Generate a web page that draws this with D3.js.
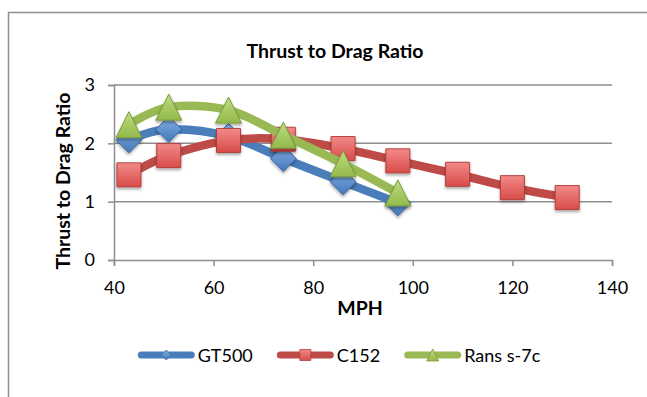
<!DOCTYPE html>
<html>
<head>
<meta charset="utf-8">
<script src="https://cdn.jsdelivr.net/npm/d3@7"></script>
<style>
  body { margin: 0; background: #fff; }
  svg { display: block; font-family: Lato, "Noto Sans", sans-serif; }
  .tick text { font-size: 18px; fill: #000; }
</style>
</head>
<body>
<div id="chart"></div>
<script>
var w = 647;
var h = 397;

// data
var gtMph = [43, 51, 63, 74, 86, 97];
var gtRatio = [2.06, 2.24, 2.12, 1.74, 1.34, 0.98];
var cMph = [43, 51, 63, 74, 86, 97, 109, 120, 131];
var cRatio = [1.46, 1.79, 2.05, 2.07, 1.91, 1.70, 1.47, 1.24, 1.07];
var ransMph = [43, 51, 63, 74, 86, 97];
var ransRatio = [2.32, 2.62, 2.57, 2.14, 1.65, 1.15];

var seriesNames = ["GT500", "C152", "Rans s-7c"];
var xTicks = [40, 60, 80, 100, 120, 140];
var yTicks = [0, 1, 2, 3];

var series = [
    { name: seriesNames[0], mph: gtMph, val: gtRatio, color: "#4a7ebb", marker: "diamond", light: "#86afe6", dark: "#4277b8", edge: "#3c6aa5" },
    { name: seriesNames[1], mph: cMph, val: cRatio, color: "#be4b48", marker: "square", light: "#f28a88", dark: "#d84c49", edge: "#b23f3c" },
    { name: seriesNames[2], mph: ransMph, val: ransRatio, color: "#98b954", marker: "triangle", light: "#bedd7e", dark: "#93b94c", edge: "#7c9c3c" }
];

var plotLeft = 114, plotRight = 612, plotTop = 85, plotBottom = 260;

var xScale = d3.scaleLinear().domain([40, 140]).range([plotLeft, plotRight]);
var yScale = d3.scaleLinear().domain([0, 3]).range([plotBottom, plotTop]);

var svg = d3.select("#chart")
    .append("svg")
    .attr("width", w)
    .attr("height", h);

var defs = svg.append("defs");
var shadow = defs.append("filter").attr("id", "shadow")
    .attr("x", "-30%").attr("y", "-30%").attr("width", "160%").attr("height", "170%");
shadow.append("feDropShadow")
    .attr("dx", 0).attr("dy", 2).attr("stdDeviation", 1.6)
    .attr("flood-color", "#000").attr("flood-opacity", 0.35);

series.forEach(function (s, i) {
    var g = defs.append("linearGradient").attr("id", "grad" + i)
        .attr("x1", 0).attr("y1", 0).attr("x2", 0).attr("y2", 1);
    g.append("stop").attr("offset", "0%").attr("stop-color", s.light);
    g.append("stop").attr("offset", "100%").attr("stop-color", s.dark);
});

// chart border
svg.append("rect")
    .attr("x", 8.5).attr("y", 12.5)
    .attr("width", 700).attr("height", 500)
    .attr("fill", "none")
    .attr("stroke", "#8e8e8e")
    .attr("stroke-width", 1.5);

// title
svg.append("text")
    .attr("x", 335).attr("y", 58)
    .attr("text-anchor", "middle")
    .attr("font-size", "19.5px")
    .attr("font-weight", "bold")
    .text("Thrust to Drag Ratio");

// gridlines
svg.append("g")
    .selectAll("line")
    .data(yTicks.slice(1))
    .enter()
    .append("line")
    .attr("x1", plotLeft).attr("x2", plotRight)
    .attr("y1", function (d) { return yScale(d); })
    .attr("y2", function (d) { return yScale(d); })
    .attr("stroke", "#8e8e8e")
    .attr("stroke-width", 1.5);

var yAxis = d3.axisLeft(yScale).tickValues(yTicks).tickSize(6).tickPadding(13).tickFormat(d3.format("d"));
var xAxis = d3.axisBottom(xScale).tickValues(xTicks).tickSize(6).tickPadding(15).tickFormat(d3.format("d"));

var yG = svg.append("g").attr("transform", "translate(" + plotLeft + ",0)").call(yAxis);
var xG = svg.append("g").attr("transform", "translate(0," + plotBottom + ")").call(xAxis);
[yG, xG].forEach(function (a) {
    a.attr("font-family", null).attr("font-size", null);
    a.select(".domain").attr("stroke", "#8e8e8e").attr("stroke-width", 1.5);
    a.selectAll(".tick line").attr("stroke", "#8e8e8e").attr("stroke-width", 1.5);
});

// axis titles
svg.append("text")
    .attr("x", 360).attr("y", 315)
    .attr("text-anchor", "middle")
    .attr("font-size", "19.5px")
    .attr("font-weight", "bold")
    .text("MPH");

svg.append("text")
    .attr("transform", "translate(70,181) rotate(-90)")
    .attr("text-anchor", "middle")
    .attr("font-size", "19.5px")
    .attr("font-weight", "bold")
    .text("Thrust to Drag Ratio");

function markerPath(type, r) {
    if (type === "diamond") return "M0," + (-r) + "L" + r + ",0L0," + r + "L" + (-r) + ",0Z";
    if (type === "square") return "M" + (-r) + "," + (-r) + "H" + r + "V" + r + "H" + (-r) + "Z";
    return "M0," + (-r) + "L" + r + "," + r + "H" + (-r) + "Z";
}
var markerSize = { diamond: 13, square: 12, triangle: 13 };

var line = d3.line()
    .x(function (d) { return xScale(d[0]); })
    .y(function (d) { return yScale(d[1]); })
    .curve(d3.curveCatmullRom.alpha(0));

series.forEach(function (s, i) {
    var pts = s.mph.map(function (m, j) { return [m, s.val[j]]; });
    var g = svg.append("g");
    g.append("path")
        .datum(pts)
        .attr("fill", "none")
        .attr("stroke", s.color)
        .attr("stroke-width", 8.5)
        .attr("stroke-linecap", "round")
        .attr("stroke-linejoin", "round")
        .attr("d", line);
    g.selectAll("path.mk")
        .data(pts)
        .enter()
        .append("path")
        .attr("class", "mk")
        .attr("transform", function (d) { return "translate(" + xScale(d[0]) + "," + yScale(d[1]) + ")"; })
        .attr("d", markerPath(s.marker, markerSize[s.marker]))
        .attr("fill", "url(#grad" + i + ")")
        .attr("stroke", s.edge)
        .attr("stroke-width", 1)
        .attr("filter", "url(#shadow)");
});

// legend
var legend = svg.append("g");
var lx = 0;
var legendSmall = { diamond: 5, square: 5.5, triangle: 6 };
series.forEach(function (s, i) {
    var item = legend.append("g").attr("transform", "translate(" + lx + ",0)");
    item.append("line")
        .attr("x1", 3.5).attr("x2", 53.5)
        .attr("y1", 0).attr("y2", 0)
        .attr("stroke", s.color)
        .attr("stroke-width", 7)
        .attr("stroke-linecap", "round");
    item.append("path")
        .attr("transform", "translate(28.5,0)")
        .attr("d", markerPath(s.marker, legendSmall[s.marker]))
        .attr("fill", "url(#grad" + i + ")")
        .attr("stroke", s.edge)
        .attr("stroke-width", 0.8);
    var t = item.append("text")
        .attr("x", 60).attr("y", 7)
        .attr("font-size", "18px")
        .text(s.name);
    lx += 60 + t.node().getComputedTextLength() + 24;
});
var legendW = lx - 24;
legend.attr("transform", "translate(" + (339 - legendW / 2) + ",355)");
</script>
</body>
</html>
